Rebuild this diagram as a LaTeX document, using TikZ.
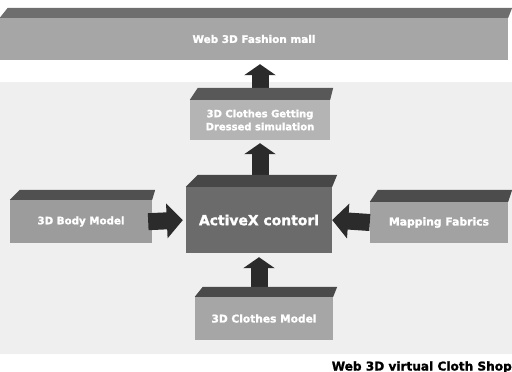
\documentclass[tikz,border=0pt]{standalone}
\usepackage{fontspec}
\setmainfont{DejaVu Sans}
\newfontfamily\heavyfont[FakeBold=1.5]{DejaVu Sans Bold}
\usepackage{graphicx}
\usetikzlibrary{arrows.meta,calc}
\pgfdeclarelayer{back}
\pgfdeclarelayer{arr}
\pgfsetlayers{back,arr,main}
\definecolor{bggray}{HTML}{EFEFEF}
\definecolor{mallfront}{HTML}{A6A6A6}
\definecolor{malltop}{HTML}{6E6E6E}
\definecolor{clothesfront}{HTML}{B4B4B4}
\definecolor{clothestop}{HTML}{585858}
\definecolor{axfront}{HTML}{6B6B6B}
\definecolor{axtop}{HTML}{474747}
\definecolor{bodyfront}{HTML}{9C9C9C}
\definecolor{bodytop}{HTML}{505050}
\definecolor{fabfront}{HTML}{A2A2A2}
\definecolor{fabtop}{HTML}{4C4C4C}
\definecolor{modelfront}{HTML}{A6A6A6}
\definecolor{modeltop}{HTML}{4A4A4A}
\definecolor{arrowgray}{HTML}{2B2B2B}
\tikzset{
  face/.style={rectangle, inner sep=0pt, text=white, font=\heavyfont},
  vblock/.style={line width=17pt, draw=arrowgray, -{Triangle[width=31pt,length=11pt]}},
  hblock/.style={line width=17pt, draw=arrowgray, -{Triangle[width=34pt,length=16pt]}},
}
\begin{document}
\begin{tikzpicture}[x=1pt,y=-1pt]
\useasboundingbox (0,0) rectangle (512,372);
\begin{pgfonlayer}{back}
  \fill[bggray] (0,82) rectangle (512,354);
\end{pgfonlayer}

% front faces
\node[face, fill=mallfront, minimum width=508pt, minimum height=42pt] (mall) at (254,39)
  {\resizebox{123pt}{!}{Web 3D Fashion mall}};
\node[face, fill=clothesfront, minimum width=140pt, minimum height=40pt, align=center,
  font=\heavyfont\fontsize{10}{13}\selectfont] (clothes) at (260,120)
  {3D Clothes Getting\\Dressed simulation};
\node[face, fill=axfront, minimum width=146pt, minimum height=66pt] (activex) at (259,220)
  {\resizebox{120pt}{!}{ActiveX contorl}};
\node[face, fill=bodyfront, minimum width=142pt, minimum height=43pt] (body) at (81,221.5)
  {\resizebox{87pt}{!}{3D Body Model}};
\node[face, fill=fabfront, minimum width=138pt, minimum height=41pt] (fabrics) at (439,222.5)
  {\resizebox{100pt}{!}{Mapping Fabrics}};
\node[face, fill=modelfront, minimum width=138pt, minimum height=43pt] (model) at (264,318.5)
  {\resizebox{105pt}{!}{3D Clothes Model}};

% top faces
\fill[malltop] (mall.north west) -- (mall.north east) -- ($(mall.north east)+(4,-10)$) -- ($(mall.north west)+(8,-10)$) -- cycle;
\fill[clothestop] (clothes.north west) -- (clothes.north east) -- ($(clothes.north east)+(3,-12)$) -- ($(clothes.north west)+(8,-12)$) -- cycle;
\fill[axtop] (activex.north west) -- (activex.north east) -- ($(activex.north east)+(5,-12)$) -- ($(activex.north west)+(12,-12)$) -- cycle;
\fill[bodytop] (body.north west) -- (body.north east) -- ($(body.north east)+(3,-10)$) -- ($(body.north west)+(10,-10)$) -- cycle;
\fill[fabtop] (fabrics.north west) -- (fabrics.north east) -- ($(fabrics.north east)+(4,-12)$) -- ($(fabrics.north west)+(8,-12)$) -- cycle;
\fill[modeltop] (model.north west) -- (model.north east) -- ($(model.north east)+(4,-10)$) -- ($(model.north west)+(8,-10)$) -- cycle;

% vertical arrows (behind the boxes)
\begin{pgfonlayer}{arr}
  \draw[vblock, shorten >=4pt] (clothes.center) -- (clothes.center |- mall.south);
  \draw[vblock, shorten >=3pt] (clothes.center |- activex.center) -- (clothes.south);
  \draw[vblock, shorten >=4pt] (activex.center |- model.center) -- (activex.south);
\end{pgfonlayer}

% horizontal arrows
\draw[hblock, shorten <=-4pt, shorten >=3pt] (body.east) -- (activex.west);
\draw[hblock, shorten <=0pt] (fabrics.west) -- (activex.east);

% caption
\node[anchor=base east, inner sep=0pt, text=black, font=\heavyfont] (caption) at (512,370.5)
  {\resizebox{180pt}{!}{Web 3D virtual Cloth Shop}};
\end{tikzpicture}
\end{document}
